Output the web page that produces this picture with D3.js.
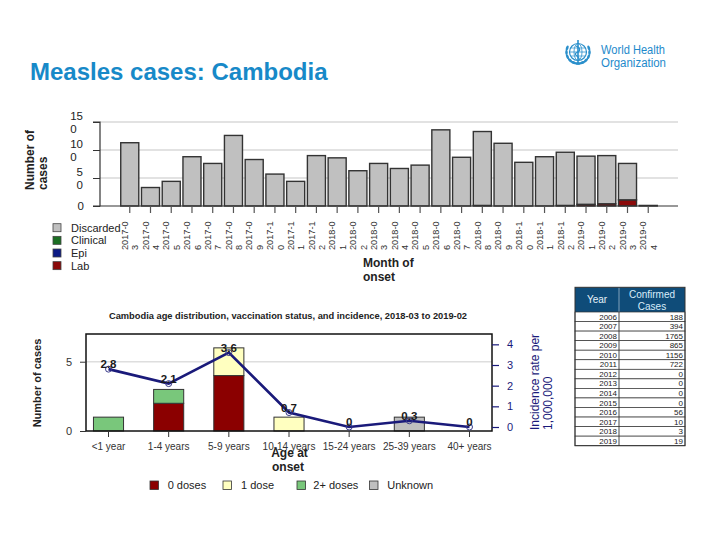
<!DOCTYPE html>
<html><head><meta charset="utf-8">
<script src="https://cdn.jsdelivr.net/npm/d3@7"></script>
<style>
body{margin:0;background:#fff;}
svg{font-family:"Liberation Sans",Arial,sans-serif;}
</style></head>
<body>
<svg id="c" width="720" height="540"></svg>
<script>
// ---------- data ----------
const months = ["2017-03","2017-04","2017-05","2017-06","2017-07","2017-08","2017-09","2017-10","2017-11","2017-12",
"2018-01","2018-02","2018-03","2018-04","2018-05","2018-06","2018-07","2018-08","2018-09","2018-10","2018-11","2018-12",
"2019-01","2019-02","2019-03","2019-04"];
const discarded = [113,33,44,88,76,126,83,57,44,90,86,63,76,67,73,136,87,132,112,78,88,95,86,86,65,0];
const clinical  = [0,0,0,0,0,0,0,0,0,0,0,0,0,0,0,0,0,0,0,0,0,0,0,0,0,0];
const epi       = [0,0,0,0,0,0,0,0,0,0,0,0,0,0,0,0,0,0,0,0,0,0,0,0,0,0];
const lab       = [0,0,0,0,0,0,0,0,0,0,0,0,0,0,0,0,0,1,0,0,0,1,3,4,11,1];
const topYTicks = [0,50,100,150];

const ageGroups = ["<1 year","1-4 years","5-9 years","10-14 years","15-24 years","25-39 years","40+ years"];
const zeroDoses = [0,2,4,0,0,0,0];
const oneDose   = [0,0,2,1,0,0,0];
const twoDoses  = [1,1,0,0,0,0,0];
const unknownDoses = [0,0,0,0,0,1,0];
const incidence = [2.8,2.1,3.6,0.7,0,0.3,0];
const leftTicks = [0,5];
const rightTicks = [0,1,2,3,4];

const tableYears = ["2006","2007","2008","2009","2010","2011","2012","2013","2014","2015","2016","2017","2018","2019"];
const tableCases = [188,394,1765,865,1156,722,0,0,0,0,56,10,3,19];

// ---------- setup ----------
const svg = d3.select("#c");
const BLUE = "#1789c8";
const NAVY = "#1a1a7a";

// title
svg.append("text").attr("x",30).attr("y",80).attr("font-size",24).attr("font-weight","bold")
  .attr("fill",BLUE).text("Measles cases: Cambodia");

// WHO logo
const logo = svg.append("g").attr("transform","translate(578,52)").attr("stroke","#2a8fcb").attr("fill","none");
logo.append("circle").attr("r",8.5).attr("stroke-width",1.2);
logo.append("ellipse").attr("rx",4).attr("ry",8.5).attr("stroke-width",0.8);
logo.append("line").attr("x1",-8.5).attr("x2",8.5).attr("stroke-width",0.8);
logo.append("line").attr("x1",-7.5).attr("x2",7.5).attr("y1",-4).attr("y2",-4).attr("stroke-width",0.7);
logo.append("line").attr("x1",-7.5).attr("x2",7.5).attr("y1",4).attr("y2",4).attr("stroke-width",0.7);
logo.append("line").attr("y1",-12).attr("y2",11).attr("stroke-width",1.6);
logo.append("path").attr("d","M-2,-6 C3,-4 3,-1 -2,1 C-5,3 3,5 1,8").attr("stroke-width",1.2);
[-1,1].forEach(s=>{
  for(let i=0;i<7;i++){
    const a = (200 - i*22)*Math.PI/180;
    const cx = s*Math.cos(a)*11.5*-1, cy = -Math.sin(a)*11.5*-1;
    logo.append("ellipse").attr("cx",cx).attr("cy",cy).attr("rx",1.3).attr("ry",2.6)
      .attr("transform",`rotate(${s*(i*22-20)},${cx},${cy})`).attr("fill","#2a8fcb").attr("stroke","none");
  }
});
svg.append("text").attr("x",601).attr("y",53.5).attr("font-size",12).attr("fill","#1e8acb")
  .attr("textLength",64).attr("lengthAdjust","spacingAndGlyphs").text("World Health");
svg.append("text").attr("x",601).attr("y",66.5).attr("font-size",12).attr("fill","#1e8acb")
  .attr("textLength",65).attr("lengthAdjust","spacingAndGlyphs").text("Organization");

// ---------- top chart ----------
const tx = d3.scaleBand().domain(months).range([100,678]).paddingInner(0.13).paddingOuter(1.0);
const ty = d3.scaleLinear().domain([0,150]).range([206,122]);

const tg = svg.append("g");
// gridlines
tg.selectAll(".tgrid").data(topYTicks.filter(d=>d>0)).join("line")
  .attr("x1",100).attr("x2",678).attr("y1",d=>ty(d)).attr("y2",d=>ty(d))
  .attr("stroke","#d9d9d9").attr("stroke-width",1.5);

const topRows = months.map((m,i)=>({month:m, lab:lab[i], epi:epi[i], clinical:clinical[i], discarded:discarded[i]}));
const topKeys = ["lab","epi","clinical","discarded"];
const topColors = {lab:"#8b0a0a", epi:"#0c1a85", clinical:"#1b6e23", discarded:"#c0c0c0"};
const topStack = d3.stack().keys(topKeys)(topRows);
topStack.forEach(layer=>{
  tg.append("g").selectAll("rect").data(layer.filter(d=>d[1]-d[0]>0)).join("rect")
    .attr("x",d=>tx(d.data.month)).attr("width",tx.bandwidth())
    .attr("y",d=>ty(d[1])).attr("height",d=>ty(d[0])-ty(d[1]))
    .attr("fill",topColors[layer.key]).attr("stroke","#333").attr("stroke-width",1.4);
});
// axes
const tyAxis = d3.axisLeft(ty).tickValues(topYTicks).tickSize(7).tickFormat("");
const tyG = tg.append("g").attr("transform","translate(100,0)").call(tyAxis);
tyG.select(".domain").attr("stroke","#333").attr("stroke-width",1.2).attr("d","M-7,122H0V206H-7");
tyG.selectAll(".tick line").attr("stroke","#333");
topYTicks.forEach(v=>{
  const s = String(v), y = ty(v);
  if(s.length===1){
    tg.append("text").attr("x",84).attr("y",y).attr("dy","0.35em").attr("text-anchor","end")
      .attr("font-size",11.5).attr("fill","#222").text(s);
  } else {
    const t1 = tg.append("text").attr("x",83).attr("y",y-6.5).attr("dy","0.35em").attr("text-anchor","end")
      .attr("font-size",11.5).attr("fill","#222").text(s.slice(0,-1));
    const w = t1.node().getComputedTextLength();
    tg.append("text").attr("x",83-w).attr("y",y+6.5).attr("dy","0.35em").attr("text-anchor","start")
      .attr("font-size",11.5).attr("fill","#222").text(s.slice(-1));
  }
});
const txAxis = d3.axisBottom(tx).tickSize(7).tickFormat("");
const txG = tg.append("g").attr("transform","translate(0,206)").call(txAxis);
txG.select(".domain").attr("stroke","#333").attr("stroke-width",1.2).attr("d","M100,0H678");
txG.selectAll(".tick line").attr("stroke","#555").attr("stroke-width",1.2);
months.forEach(m=>{
  const cx = tx(m)+tx.bandwidth()/2;
  const t = tg.append("text").attr("transform",`translate(${cx},250) rotate(-90)`)
    .attr("font-size",9.2).attr("fill","#333");
  t.append("tspan").attr("x",0).attr("y",-5).attr("dy","0.35em").text(m.slice(0,-1));
  t.append("tspan").attr("x",0).attr("y",5.5).attr("dy","0.35em").text(m.slice(-1));
});
// titles
const tyt = tg.append("text").attr("transform","translate(36,190) rotate(-90)")
  .attr("font-size",12).attr("font-weight","bold").attr("fill","#222");
tyt.append("tspan").attr("x",0).attr("y",-6.5).attr("dy","0.35em").text("Number of");
tyt.append("tspan").attr("x",0).attr("y",7).attr("dy","0.35em").text("cases");
tg.append("text").attr("x",363).attr("y",263).attr("dy","0.35em").attr("font-size",12).attr("font-weight","bold")
  .attr("fill","#222").text("Month of");
tg.append("text").attr("x",363).attr("y",277).attr("dy","0.35em").attr("font-size",12).attr("font-weight","bold")
  .attr("fill","#222").text("onset");
// legend
const topLegend = [["Discarded","discarded"],["Clinical","clinical"],["Epi","epi"],["Lab","lab"]];
topLegend.forEach(([lbl,k],i)=>{
  const y = 227.7 + i*12.65;
  tg.append("rect").attr("x",53).attr("y",y-4).attr("width",8).attr("height",8)
    .attr("fill",topColors[k]).attr("stroke","#444").attr("stroke-width",0.8);
  tg.append("text").attr("x",71).attr("y",y).attr("dy","0.35em").attr("font-size",11).attr("fill","#222").text(lbl);
});

// ---------- bottom chart ----------
const bx = d3.scaleBand().domain(ageGroups).range([86,492]).paddingInner(0.5).paddingOuter(0.124);
const byL = d3.scaleLinear().domain([0,7]).range([431,334]);
const byR = d3.scaleLinear().domain([-0.1935,4.5]).range([431,334]);
const bg = svg.append("g");

bg.append("text").attr("x",288).attr("y",316).attr("dy","0.35em").attr("text-anchor","middle")
  .attr("font-size",9.3).attr("font-weight","bold").attr("fill","#222")
  .text("Cambodia age distribution, vaccination status, and incidence, 2018-03 to 2019-02");

bg.selectAll(".bgrid").data(leftTicks.filter(d=>d>0)).join("line")
  .attr("x1",86).attr("x2",492).attr("y1",d=>byL(d)).attr("y2",d=>byL(d))
  .attr("stroke","#dedede").attr("stroke-width",1.5);

const botRows = ageGroups.map((a,i)=>({age:a, zero:zeroDoses[i], one:oneDose[i], two:twoDoses[i], unk:unknownDoses[i]}));
const botKeys = ["zero","one","two","unk"];
const botColors = {zero:"#8b0000", one:"#ffffc0", two:"#79c77b", unk:"#bfbfbf"};
d3.stack().keys(botKeys)(botRows).forEach(layer=>{
  bg.append("g").selectAll("rect").data(layer.filter(d=>d[1]-d[0]>0)).join("rect")
    .attr("x",d=>bx(d.data.age)).attr("width",bx.bandwidth())
    .attr("y",d=>byL(d[1])).attr("height",d=>byL(d[0])-byL(d[1]))
    .attr("fill",botColors[layer.key]).attr("stroke","#333").attr("stroke-width",1);
});

// frame
bg.append("rect").attr("x",86).attr("y",334).attr("width",406).attr("height",97)
  .attr("fill","none").attr("stroke","#111").attr("stroke-width",1.5);

// left axis
const blG = bg.append("g").attr("transform","translate(86,0)")
  .call(d3.axisLeft(byL).tickValues(leftTicks).tickSize(6).tickPadding(8).tickFormat(d3.format("d")));
blG.select(".domain").remove();
blG.selectAll(".tick line").attr("stroke","#333");
blG.selectAll(".tick text").attr("font-size",11).attr("fill","#333").attr("font-family","Liberation Sans, Arial, sans-serif");
// right axis
const brG = bg.append("g").attr("transform","translate(492,0)")
  .call(d3.axisRight(byR).tickValues(rightTicks).tickSize(7).tickPadding(8).tickFormat(d3.format("d")));
brG.select(".domain").remove();
brG.selectAll(".tick line").attr("stroke",NAVY).attr("stroke-width",1.2);
brG.selectAll(".tick text").attr("font-size",11).attr("fill",NAVY).attr("font-family","Liberation Sans, Arial, sans-serif");
// bottom axis
const bbG = bg.append("g").attr("transform","translate(0,431)")
  .call(d3.axisBottom(bx).tickSize(6).tickPadding(6));
bbG.select(".domain").remove();
bbG.selectAll(".tick line").attr("stroke","#333");
bbG.selectAll(".tick text").attr("font-size",10).attr("fill","#333").attr("font-family","Liberation Sans, Arial, sans-serif");

// line
const lineData = ageGroups.map((a,i)=>({age:a, v:incidence[i]}));
const lineGen = d3.line().x(d=>bx(d.age)+bx.bandwidth()/2).y(d=>byR(d.v));
bg.append("path").datum(lineData).attr("d",lineGen).attr("fill","none")
  .attr("stroke",NAVY).attr("stroke-width",2.6);
bg.selectAll(".pt").data(lineData).join("circle")
  .attr("cx",d=>bx(d.age)+bx.bandwidth()/2).attr("cy",d=>byR(d.v)).attr("r",3)
  .attr("fill","none").attr("stroke","#3a3a8a").attr("stroke-width",1);
bg.selectAll(".lbl").data(lineData).join("text")
  .attr("x",d=>bx(d.age)+bx.bandwidth()/2).attr("y",d=>byR(d.v)-5).attr("dy","0.35em")
  .attr("text-anchor","middle").attr("font-size",11.5).attr("font-weight","bold").attr("fill","#1a1a1a")
  .text(d=>String(d.v));

// axis titles
bg.append("text").attr("transform","translate(37,383) rotate(-90)").attr("text-anchor","middle").attr("dy","0.35em")
  .attr("font-size",11).attr("font-weight","bold").attr("fill","#222").text("Number of cases");
bg.append("text").attr("x",289.5).attr("y",453).attr("dy","0.35em").attr("text-anchor","middle")
  .attr("font-size",12).attr("font-weight","bold").attr("fill","#222").text("Age at");
bg.append("text").attr("x",288).attr("y",466.5).attr("dy","0.35em").attr("text-anchor","middle")
  .attr("font-size",12).attr("font-weight","bold").attr("fill","#222").text("onset");
const rt = bg.append("text").attr("transform","translate(541,430) rotate(-90)")
  .attr("font-size",12).attr("fill",NAVY);
rt.append("tspan").attr("x",0).attr("y",-6.5).attr("dy","0.35em").text("Incidence rate per");
rt.append("tspan").attr("x",0).attr("y",7).attr("dy","0.35em").text("1,000,000");

// legend
const botLegend = [["0 doses","zero",150,167.7],["1 dose","one",223,241],["2+ doses","two",297,313.3],["Unknown","unk",369.5,387.3]];
botLegend.forEach(([lbl,k,sx,tx0])=>{
  bg.append("rect").attr("x",sx).attr("y",481).attr("width",8.5).attr("height",8.5)
    .attr("fill",botColors[k]).attr("stroke","#333").attr("stroke-width",0.8);
  bg.append("text").attr("x",tx0).attr("y",485.2).attr("dy","0.35em").attr("font-size",11).attr("fill","#222").text(lbl);
});

// ---------- table ----------
const tb = svg.append("g");
const X0=575, X1=619, X2=685, H0=287.3, H1=312, RH=(445.7-312)/tableYears.length;
tb.append("rect").attr("x",X0).attr("y",H0).attr("width",X2-X0).attr("height",H1-H0).attr("fill","#0f4c79");
tb.append("line").attr("x1",X1).attr("x2",X1).attr("y1",H0).attr("y2",H1).attr("stroke","#9fb7cc").attr("stroke-width",0.8);
tb.append("text").attr("x",(X0+X1)/2).attr("y",(H0+H1)/2).attr("dy","0.35em").attr("text-anchor","middle")
  .attr("font-size",10).attr("fill","#e8f2fa").text("Year");
tb.append("text").attr("x",(X1+X2)/2).attr("y",H0+7).attr("dy","0.35em").attr("text-anchor","middle")
  .attr("font-size",10).attr("fill","#d8ecfa").text("Confirmed");
tb.append("text").attr("x",(X1+X2)/2).attr("y",H0+19).attr("dy","0.35em").attr("text-anchor","middle")
  .attr("font-size",10).attr("fill","#d8ecfa").text("Cases");
tableYears.forEach((yr,i)=>{
  const y = H1 + i*RH;
  tb.append("rect").attr("x",X0).attr("y",y).attr("width",X2-X0).attr("height",RH)
    .attr("fill","#fff").attr("stroke","#333").attr("stroke-width",0.7);
  tb.append("text").attr("x",X1-2).attr("y",y+RH/2).attr("dy","0.35em").attr("text-anchor","end")
    .attr("font-size",8).attr("fill","#222").text(yr);
  tb.append("text").attr("x",X2-2).attr("y",y+RH/2).attr("dy","0.35em").attr("text-anchor","end")
    .attr("font-size",8).attr("fill","#222").text(tableCases[i]);
});
tb.append("line").attr("x1",X1).attr("x2",X1).attr("y1",H1).attr("y2",445.7).attr("stroke","#333").attr("stroke-width",0.9);
tb.append("rect").attr("x",X0).attr("y",H0).attr("width",X2-X0).attr("height",445.7-H0)
  .attr("fill","none").attr("stroke","#333").attr("stroke-width",1);
</script>
</body></html>
